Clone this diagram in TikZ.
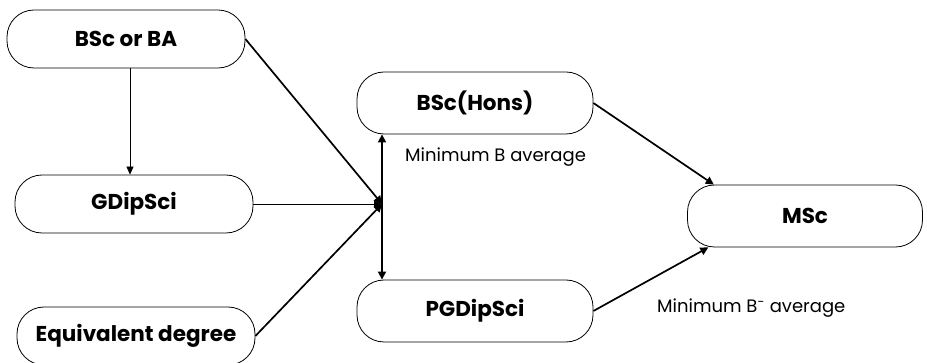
\documentclass[tikz,border=0pt]{standalone}
\usepackage{fontspec}
\setmainfont{Poppins}
\usepackage{tikz}
\usetikzlibrary{arrows.meta, positioning, calc}

\begin{document}
\begin{tikzpicture}[
  x=1pt, y=-1pt,
  degree/.style={rectangle, draw=black, line width=0.8pt, rounded corners=27pt,
              minimum width=238pt, minimum height=58pt,
              align=center, font=\fontsize{21.5}{25}\selectfont\bfseries},
  note/.style={anchor=west, inner sep=0pt, font=\fontsize{18}{20}\selectfont},
  arrow/.style={-{Triangle[length=8pt, width=8pt]}, line width=1.7pt},
  thinarrow/.style={-{Triangle[length=8pt, width=7pt]}, line width=0.8pt}
]
\useasboundingbox (0,0) rectangle (927,363);

% entry degrees on the left
\node[degree] (bsc) at (126,39) {BSc or BA};
\node[degree] (gdip) at (134,204) {GDipSci};
\node[degree] (equiv) at (136,336) {Equivalent degree};

% postgraduate routes
\node[degree, minimum width=236pt, minimum height=62pt] (hons) at (475,103) {BSc(Hons)};
\node[degree, minimum width=236pt, minimum height=62pt] (pgdip) at (475,311) {PGDipSci};
\node[degree, minimum width=235pt, minimum height=62pt] (msc) at (805,216) {MSc};

\coordinate (hub) at (382,204);

\draw[thinarrow] (bsc.south -| 130,0) -- (gdip.north -| 130,0);
\draw[arrow] (bsc.east) -- (hub);
\draw[thinarrow] (gdip.east) -- (hub);
\draw[arrow] (equiv.east) -- (hub);

\draw[arrow] (hub) -- (hub |- hons.south);
\draw[arrow] (hub) -- (hub |- pgdip.north);

\draw[arrow] (hons.east) -- (msc.161);
\draw[arrow] (pgdip.east) -- (msc.198);

\node[note] (bavg) at (405,157) {Minimum B average};
\node[note] (bmavg) at (657,308) {Minimum B\textsuperscript{-} average};

\end{tikzpicture}
\end{document}
